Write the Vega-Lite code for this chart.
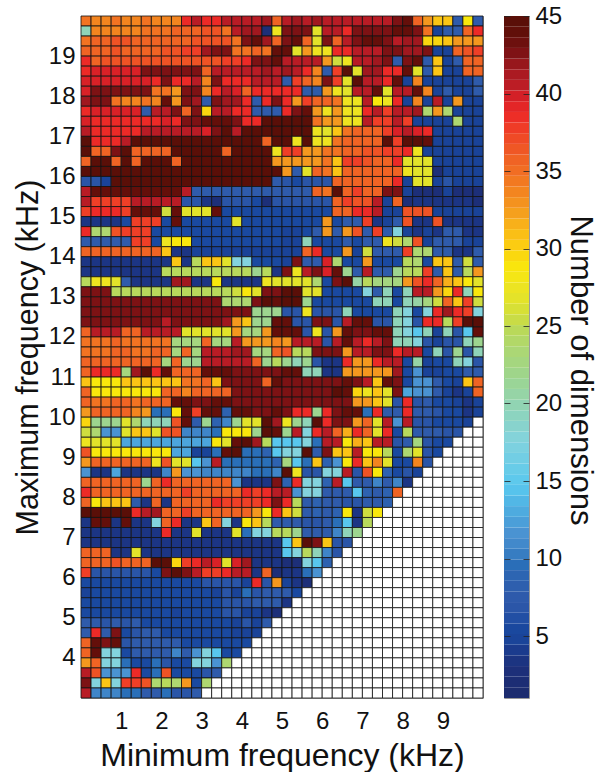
{"$schema":"https://vega.github.io/schema/vega-lite/v6.json","padding":{"left":12,"top":3,"right":0,"bottom":0},"spacing":19,"config":{"view":{"stroke":"#999","strokeWidth":1},"font":"Liberation Sans","axis":{"labelFont":"Liberation Sans","titleFont":"Liberation Sans","labelColor":"#111","titleColor":"#111","titleFontWeight":"normal"}},
"hconcat":[
{"width":402,"height":682,
"data":{"values":[
{"f":19.75,"n":[35,34,34,35,34,34,35,34,34,34,39,41,39,39,41,41,41,41,42,36,41,42,41,42,41,41,41,41,41,41,41,43,44,36,33,31,31,8,29,8]},
{"f":19.5,"n":[20,34,34,34,34,34,35,35,35,36,36,36,37,37,35,41,42,42,3,28,43,43,43,27,41,41,39,43,43,43,43,44,44,43,35,5,8,8,36,39]},
{"f":19.25,"n":[35,36,36,37,37,36,36,36,36,36,36,37,37,37,37,35,43,44,42,36,43,44,36,27,43,36,41,43,44,44,43,41,42,42,30,30,31,33,33,33]},
{"f":19,"n":[36,36,36,37,36,36,36,36,37,37,38,38,42,43,43,35,35,36,35,44,44,27,33,28,28,39,39,41,41,41,43,43,42,42,43,5,5,36,37,38]},
{"f":18.75,"n":[39,36,37,37,37,37,37,37,37,37,37,37,37,37,38,38,39,43,43,44,41,41,41,41,33,26,28,41,41,42,43,8,43,44,8,31,5,8,36,36]},
{"f":18.5,"n":[39,40,40,40,40,40,43,43,43,43,43,43,36,41,41,41,41,41,42,41,42,41,39,34,8,38,45,27,42,42,39,39,44,27,8,31,5,5,36,36]},
{"f":18.25,"n":[40,40,40,40,40,40,40,39,43,39,39,41,34,43,39,39,39,41,41,41,8,38,36,34,43,38,27,45,41,41,39,44,5,34,5,5,5,5,5,8]},
{"f":18,"n":[40,43,43,43,43,43,43,35,35,33,43,43,34,39,41,40,36,39,39,39,39,39,8,8,33,28,27,41,41,44,27,41,41,44,34,5,8,5,5,8]},
{"f":17.75,"n":[42,43,43,35,34,34,35,34,44,33,43,42,8,43,42,42,39,8,39,43,39,33,38,36,36,35,28,28,41,29,28,39,5,34,5,41,5,33,5,5]},
{"f":17.5,"n":[39,40,40,40,40,40,8,41,41,43,36,43,30,41,41,39,39,8,8,8,39,43,44,33,28,33,28,28,39,41,38,41,41,42,24,33,24,5,5,5]},
{"f":17.25,"n":[40,39,39,39,39,39,39,39,40,39,43,43,44,44,44,43,39,39,45,45,45,45,45,35,33,33,28,28,41,38,38,41,38,5,5,5,5,24,5,5]},
{"f":17,"n":[41,39,39,39,39,39,41,41,41,41,41,41,40,43,45,41,45,45,45,45,45,45,45,28,27,31,35,36,36,36,38,40,41,40,39,5,5,5,5,5]},
{"f":16.75,"n":[45,39,39,39,41,45,45,45,45,45,45,45,45,45,45,45,45,45,36,45,45,28,45,28,28,35,36,36,36,36,45,38,45,45,44,5,5,5,5,5]},
{"f":16.5,"n":[45,36,36,43,45,36,36,36,36,45,45,45,45,45,36,45,45,45,45,28,38,38,33,33,35,35,36,36,37,37,38,38,39,28,5,5,5,5,5,5]},
{"f":16.25,"n":[36,45,45,36,45,36,45,45,45,36,45,45,45,45,45,45,45,45,45,33,33,33,33,33,35,31,38,38,37,36,36,39,27,27,27,5,5,5,5,5]},
{"f":16,"n":[45,45,45,45,45,45,45,45,45,45,45,45,45,45,45,45,45,45,45,45,33,8,27,36,35,31,36,36,36,36,36,36,28,27,27,3,5,5,5,5]},
{"f":15.75,"n":[7,7,5,45,45,45,45,45,45,45,45,45,45,45,45,45,45,45,45,8,7,6,7,7,7,36,36,36,36,36,36,39,5,27,27,5,7,5,5,5]},
{"f":15.5,"n":[41,44,44,44,44,44,44,44,44,44,41,8,8,8,8,8,8,8,8,8,8,8,8,36,35,45,36,38,36,36,43,43,5,3,3,3,5,3,3,3]},
{"f":15.25,"n":[41,38,38,38,38,41,41,41,41,41,7,7,4,3,7,7,7,6,3,7,7,7,7,7,7,36,38,37,37,41,5,36,3,4,4,4,4,4,4,3]},
{"f":15,"n":[38,39,39,39,38,44,44,44,26,44,27,27,27,44,6,6,6,6,6,6,6,6,6,6,6,36,36,39,39,41,5,5,37,37,37,5,5,5,5,5]},
{"f":14.75,"n":[4,4,4,4,6,38,38,38,6,44,6,6,6,6,6,27,6,6,6,6,6,6,6,6,33,6,8,8,38,4,5,8,37,4,4,37,4,4,4,4]},
{"f":14.5,"n":[39,24,24,37,38,38,38,6,6,6,6,6,6,6,6,6,6,6,6,6,5,5,6,8,33,8,33,37,8,38,8,18,5,4,5,4,8,8,4,4]},
{"f":14.25,"n":[8,8,8,8,8,38,38,6,28,29,29,6,6,6,6,6,6,6,6,6,5,5,20,6,6,6,8,6,8,8,28,26,24,37,5,8,8,8,5,5]},
{"f":14,"n":[36,36,36,36,36,36,36,36,31,4,4,5,5,5,5,5,5,5,5,5,5,5,36,39,6,6,33,5,26,8,8,8,38,24,24,8,8,4,4,8]},
{"f":13.75,"n":[4,4,4,4,4,4,4,4,4,31,4,25,31,31,27,18,18,6,6,6,5,43,8,8,40,24,6,6,33,6,6,6,25,24,6,31,31,8,26,8]},
{"f":13.5,"n":[4,4,4,4,4,4,4,4,25,25,25,25,25,25,25,25,25,22,25,4,43,28,41,43,40,44,22,8,41,8,8,22,25,25,38,8,31,8,25,33]},
{"f":13.25,"n":[25,28,28,27,8,4,4,4,4,42,42,4,4,29,4,4,4,4,28,27,27,27,27,24,6,43,45,21,25,23,23,23,33,37,39,36,32,31,29,27]},
{"f":13,"n":[43,43,43,25,25,25,25,25,25,25,25,25,25,25,25,26,29,27,43,43,45,45,27,27,6,6,6,6,18,8,20,6,20,41,41,33,30,39,20,29]},
{"f":12.75,"n":[43,43,43,43,43,43,43,43,43,43,43,43,43,43,24,24,24,43,45,44,45,45,22,6,6,6,6,6,6,20,20,6,20,21,23,26,36,31,38,26]},
{"f":12.5,"n":[43,43,43,43,43,43,43,43,43,43,43,43,43,43,43,43,43,22,22,22,7,7,28,7,7,7,20,6,6,6,6,20,18,6,18,39,42,39,38,18]},
{"f":12.25,"n":[43,43,43,43,43,43,43,43,41,43,43,43,43,43,42,33,31,22,22,44,44,7,7,43,43,7,41,44,44,7,7,20,18,7,39,39,25,38,45,45]},
{"f":12,"n":[36,41,41,41,36,36,41,41,41,41,27,27,27,27,27,33,23,23,33,44,44,44,7,28,7,33,44,43,43,44,44,20,18,15,20,5,20,7,15,44]},
{"f":11.75,"n":[35,35,35,36,35,35,35,35,35,23,23,23,36,23,23,41,33,33,33,34,33,41,41,41,7,41,44,41,39,41,43,20,20,18,7,5,7,7,20,22]},
{"f":11.5,"n":[35,35,35,36,36,35,35,36,36,23,36,23,41,41,41,42,42,23,23,36,37,25,25,43,43,43,33,41,41,43,43,39,41,41,6,20,7,22,7,20]},
{"f":11.25,"n":[36,36,36,36,36,36,36,36,23,36,22,22,41,41,41,41,41,36,22,25,22,20,22,7,4,4,39,33,33,39,41,41,6,21,5,6,6,20,18,7]},
{"f":11,"n":[36,39,39,39,23,42,45,39,44,36,36,36,44,44,44,43,43,43,43,43,44,44,20,20,4,4,33,33,33,33,33,42,6,12,5,5,6,6,8,8]},
{"f":10.75,"n":[31,29,29,29,31,31,31,31,31,31,35,35,36,31,43,43,43,43,36,44,43,43,43,43,43,43,44,43,41,31,44,43,6,12,12,8,6,5,31,36]},
{"f":10.5,"n":[36,29,29,29,29,29,29,29,36,36,34,36,36,36,36,43,43,43,43,43,43,43,43,43,43,45,44,30,28,31,27,43,13,12,12,8,5,4,5,36]},
{"f":10.25,"n":[36,35,35,36,36,35,36,36,36,44,44,43,43,44,44,43,43,43,43,43,43,43,43,43,43,43,43,33,33,31,27,7,39,7,8,6,6,5,4,5]},
{"f":10,"n":[33,36,36,36,36,34,33,10,10,29,44,38,44,44,9,44,44,43,43,44,43,39,39,22,39,43,44,44,10,39,8,8,39,8,8,7,6,6,4,5]},
{"f":9.75,"n":[30,22,22,22,27,24,20,20,20,37,44,8,22,9,11,22,27,27,45,42,28,22,20,45,39,43,43,33,36,27,41,12,41,7,7,6,6,6,5,0]},
{"f":9.5,"n":[26,24,12,12,27,31,31,27,37,37,11,11,11,10,29,29,29,22,45,44,22,41,18,39,41,36,32,39,36,27,39,6,25,8,8,8,7,7,0,0]},
{"f":9.25,"n":[28,27,27,27,13,13,13,13,13,13,13,13,13,29,27,44,45,42,25,15,15,15,18,10,41,41,29,32,31,41,41,7,8,23,7,6,6,0,0,0]},
{"f":9,"n":[37,29,29,29,29,29,29,29,29,13,13,5,5,10,44,45,10,10,9,15,18,18,45,8,43,31,31,41,29,29,25,6,24,27,7,6,0,0,0,0]},
{"f":8.75,"n":[33,36,36,36,36,36,36,28,37,27,27,15,12,41,10,10,10,10,10,9,23,15,10,31,9,12,29,39,31,34,27,6,6,34,7,0,0,0,0,0]},
{"f":8.5,"n":[12,4,4,13,4,4,4,4,11,33,12,12,11,11,11,11,11,10,10,11,45,28,7,7,18,18,41,7,37,29,9,6,7,5,0,0,0,0,0,0]},
{"f":8.25,"n":[36,36,36,36,36,36,22,36,39,36,36,36,36,36,36,12,4,4,4,43,9,39,18,18,9,41,15,8,8,11,8,11,4,0,0,0,0,0,0,0]},
{"f":8,"n":[39,36,36,36,36,36,36,36,36,36,38,36,36,36,36,36,39,38,39,41,41,12,18,18,8,8,8,15,9,8,9,36,0,0,0,0,0,0,0,0]},
{"f":7.75,"n":[36,29,31,31,31,8,4,36,4,36,36,36,36,39,38,38,38,38,39,43,39,25,8,9,8,8,7,7,8,8,9,0,0,0,0,0,0,0,0,0]},
{"f":7.5,"n":[45,45,45,45,45,39,41,42,36,36,38,36,36,36,36,36,36,33,29,39,31,26,8,9,8,9,29,4,26,29,0,0,0,0,0,0,0,0,0,0]},
{"f":7.25,"n":[4,44,44,4,44,4,4,18,36,39,4,4,31,36,18,4,29,31,25,8,8,8,7,7,8,10,15,4,25,0,0,0,0,0,0,0,0,0,0,0]},
{"f":7,"n":[4,4,4,4,4,4,4,4,39,4,4,27,4,4,4,27,10,18,18,25,25,22,8,8,8,11,20,22,0,0,0,0,0,0,0,0,0,0,0,0]},
{"f":6.75,"n":[4,4,4,4,4,4,4,4,4,4,4,4,4,4,4,4,4,4,4,4,15,31,45,43,31,7,7,0,0,0,0,0,0,0,0,0,0,0,0,0]},
{"f":6.5,"n":[36,36,36,4,4,27,4,4,4,4,4,4,4,4,4,4,4,4,4,4,15,18,25,20,11,7,0,0,0,0,0,0,0,0,0,0,0,0,0,0]},
{"f":6.25,"n":[36,36,36,37,36,36,36,45,45,30,38,39,41,40,27,40,42,4,4,4,3,3,18,15,9,0,0,0,0,0,0,0,0,0,0,0,0,0,0,0]},
{"f":6,"n":[38,7,7,7,7,7,7,6,43,45,43,41,38,38,39,41,41,4,36,3,4,4,10,12,0,0,0,0,0,0,0,0,0,0,0,0,0,0,0,0]},
{"f":5.75,"n":[6,6,6,6,6,6,6,6,6,6,6,6,7,7,7,7,5,39,7,33,5,4,3,0,0,0,0,0,0,0,0,0,0,0,0,0,0,0,0,0]},
{"f":5.5,"n":[5,6,6,6,6,6,6,6,6,6,6,6,6,5,7,5,10,7,8,8,8,6,0,0,0,0,0,0,0,0,0,0,0,0,0,0,0,0,0,0]},
{"f":5.25,"n":[6,6,6,6,6,6,6,6,6,6,6,6,6,6,7,7,7,8,8,8,4,0,0,0,0,0,0,0,0,0,0,0,0,0,0,0,0,0,0,0]},
{"f":5,"n":[6,6,6,6,6,6,6,6,6,5,6,6,6,6,7,7,5,5,4,3,0,0,0,0,0,0,0,0,0,0,0,0,0,0,0,0,0,0,0,0]},
{"f":4.75,"n":[8,8,7,8,7,8,6,6,6,6,6,6,6,6,6,5,7,5,8,0,0,0,0,0,0,0,0,0,0,0,0,0,0,0,0,0,0,0,0,0]},
{"f":4.5,"n":[8,39,8,43,6,7,8,8,6,6,6,6,6,6,6,5,5,5,0,0,0,0,0,0,0,0,0,0,0,0,0,0,0,0,0,0,0,0,0,0]},
{"f":4.25,"n":[36,44,43,44,7,8,8,8,8,8,6,6,6,6,6,6,6,0,0,0,0,0,0,0,0,0,0,0,0,0,0,0,0,0,0,0,0,0,0,0]},
{"f":4,"n":[36,44,18,18,6,8,8,8,8,11,8,12,18,15,6,6,0,0,0,0,0,0,0,0,0,0,0,0,0,0,0,0,0,0,0,0,0,0,0,0]},
{"f":3.75,"n":[33,36,18,18,10,6,6,10,7,6,6,18,18,12,24,0,0,0,0,0,0,0,0,0,0,0,0,0,0,0,0,0,0,0,0,0,0,0,0,0]},
{"f":3.5,"n":[41,37,12,12,12,39,6,10,37,6,6,6,7,8,0,0,0,0,0,0,0,0,0,0,0,0,0,0,0,0,0,0,0,0,0,0,0,0,0,0]},
{"f":3.25,"n":[43,18,31,18,38,38,37,24,25,24,33,6,24,0,0,0,0,0,0,0,0,0,0,0,0,0,0,0,0,0,0,0,0,0,0,0,0,0,0,0]},
{"f":3,"n":[41,11,11,11,10,10,8,8,10,7,7,8,0,0,0,0,0,0,0,0,0,0,0,0,0,0,0,0,0,0,0,0,0,0,0,0,0,0,0,0]}
]},
"transform":[{"flatten":["n"]},{"window":[{"op":"row_number","as":"i"}],"groupby":["f"]},{"calculate":"(datum.i-1)*0.25","as":"x0"},{"calculate":"datum.i*0.25","as":"x1"},{"calculate":"datum.f+0.25","as":"f1"}],
"mark":{"type":"rect","stroke":"#111","strokeWidth":1,"strokeOpacity":0.8},
"encoding":{
"x":{"field":"x0","type":"quantitative","scale":{"domain":[0,10],"nice":false},"axis":{"values":[1,2,3,4,5,6,7,8,9],"format":"d","grid":false,"domain":false,"ticks":false,"labelFontSize":24,"labelPadding":11,"title":"Minimum frequency (kHz)","titleFontSize":32,"titlePadding":7}},
"x2":{"field":"x1"},
"y":{"field":"f","type":"quantitative","scale":{"domain":[3,20],"nice":false,"zero":false},"axis":{"values":[4,5,6,7,8,9,10,11,12,13,14,15,16,17,18,19],"format":"d","grid":false,"domain":false,"ticks":false,"labelFontSize":24,"labelPadding":6,"title":"Maximum frequency (kHz)","titleFontSize":30.5,"titlePadding":5}},
"y2":{"field":"f1"},
"color":{"field":"n","type":"quantitative","legend":null,"scale":{"type":"linear","clamp":true,"interpolate":"rgb","domain":[0,1,3,4,5,6,7,8,9,10,11,12,13,15,18,20,21,22,23,24,25,26,27,28,29,30,31,33,34,35,36,37,38,39,40,41,42,43,44,45],"range":["#ffffff","#1b2a6b","#1d2f78","#1c3584","#1a4398","#1a49a0","#2a55a7","#2f5bab","#2e62b0","#2a6fb8","#3f85c8","#4a93d2","#4ca5dc","#58c7ee","#83d3dd","#8fd4b8","#96d4a5","#9dd58f","#a5d67f","#aed770","#b8d95c","#cfdd3f","#e2e32a","#eee420","#f9e80c","#fad60f","#fbc515","#f4981f","#f3851f","#f27322","#f06424","#ef5325","#ef3f27","#ec2a27","#d92127","#b81c25","#a0181f","#7d1214","#640f0a","#5a0f08"]}}
}},
{"width":25,"height":682,
"data":{"values":[{"a":1,"b":1.69},{"a":1.69,"b":2.38},{"a":2.38,"b":3.06},{"a":3.06,"b":3.75},{"a":3.75,"b":4.44},{"a":4.44,"b":5.13},{"a":5.13,"b":5.81},{"a":5.81,"b":6.5},{"a":6.5,"b":7.19},{"a":7.19,"b":7.88},{"a":7.88,"b":8.56},{"a":8.56,"b":9.25},{"a":9.25,"b":9.94},{"a":9.94,"b":10.63},{"a":10.63,"b":11.31},{"a":11.31,"b":12},{"a":12,"b":12.69},{"a":12.69,"b":13.38},{"a":13.38,"b":14.06},{"a":14.06,"b":14.75},{"a":14.75,"b":15.44},{"a":15.44,"b":16.13},{"a":16.13,"b":16.81},{"a":16.81,"b":17.5},{"a":17.5,"b":18.19},{"a":18.19,"b":18.88},{"a":18.88,"b":19.56},{"a":19.56,"b":20.25},{"a":20.25,"b":20.94},{"a":20.94,"b":21.63},{"a":21.63,"b":22.31},{"a":22.31,"b":23},{"a":23,"b":23.69},{"a":23.69,"b":24.38},{"a":24.38,"b":25.06},{"a":25.06,"b":25.75},{"a":25.75,"b":26.44},{"a":26.44,"b":27.13},{"a":27.13,"b":27.81},{"a":27.81,"b":28.5},{"a":28.5,"b":29.19},{"a":29.19,"b":29.88},{"a":29.88,"b":30.56},{"a":30.56,"b":31.25},{"a":31.25,"b":31.94},{"a":31.94,"b":32.63},{"a":32.63,"b":33.31},{"a":33.31,"b":34},{"a":34,"b":34.69},{"a":34.69,"b":35.38},{"a":35.38,"b":36.06},{"a":36.06,"b":36.75},{"a":36.75,"b":37.44},{"a":37.44,"b":38.13},{"a":38.13,"b":38.81},{"a":38.81,"b":39.5},{"a":39.5,"b":40.19},{"a":40.19,"b":40.88},{"a":40.88,"b":41.56},{"a":41.56,"b":42.25},{"a":42.25,"b":42.94},{"a":42.94,"b":43.63},{"a":43.63,"b":44.31},{"a":44.31,"b":45}]},
"mark":{"type":"rect"},
"encoding":{
"y":{"field":"a","type":"quantitative","scale":{"domain":[1,45],"nice":false,"zero":false},"axis":{"orient":"right","values":[5,10,15,20,25,30,35,40,45],"format":"d","domain":false,"ticks":false,"zindex":1,"grid":true,"gridDash":[6,13,6],"gridColor":"#222","gridWidth":0.8,"labelFontSize":24,"labelPadding":6,"title":"Number of dimensions","titleFontSize":31,"titleAngle":90,"titlePadding":2,"titleY":354}},
"y2":{"field":"b"},
"color":{"field":"b","type":"quantitative","legend":null,"scale":{"type":"linear","clamp":true,"interpolate":"rgb","domain":[0,1,3,4,5,6,7,8,9,10,11,12,13,15,18,20,21,22,23,24,25,26,27,28,29,30,31,33,34,35,36,37,38,39,40,41,42,43,44,45],"range":["#ffffff","#1b2a6b","#1d2f78","#1c3584","#1a4398","#1a49a0","#2a55a7","#2f5bab","#2e62b0","#2a6fb8","#3f85c8","#4a93d2","#4ca5dc","#58c7ee","#83d3dd","#8fd4b8","#96d4a5","#9dd58f","#a5d67f","#aed770","#b8d95c","#cfdd3f","#e2e32a","#eee420","#f9e80c","#fad60f","#fbc515","#f4981f","#f3851f","#f27322","#f06424","#ef5325","#ef3f27","#ec2a27","#d92127","#b81c25","#a0181f","#7d1214","#640f0a","#5a0f08"]}}
}}
]}
